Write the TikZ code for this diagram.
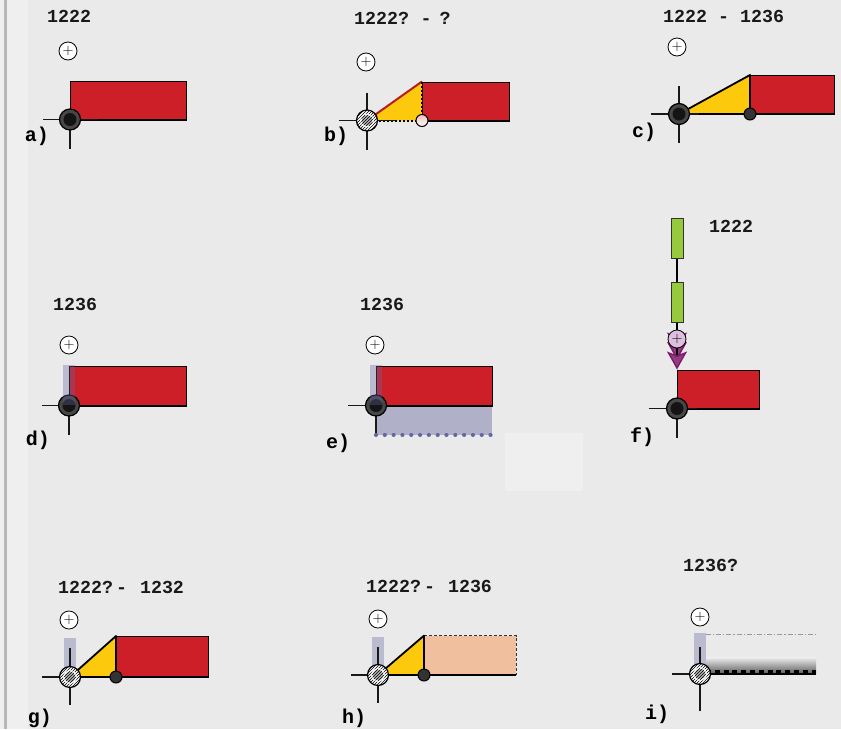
\documentclass[tikz,border=0pt]{standalone}
\usepackage{fontspec}
\newfontfamily\codefont{Liberation Mono}[BoldFont={Liberation Mono Bold}]
\usepackage{xcolor}
\usepackage{tikz}
\usetikzlibrary{arrows.meta,patterns,positioning}
\definecolor{pagebg}{HTML}{EAEAEA}
\definecolor{marginbg}{HTML}{EFEFEF}
\definecolor{barred}{HTML}{CC1F27}
\definecolor{wedgegold}{HTML}{FCC90D}
\definecolor{stemgreen}{HTML}{97C93D}
\definecolor{tipviolet}{HTML}{7D1A6A}
\definecolor{platepeach}{HTML}{F0BF9E}
\definecolor{stripblue}{HTML}{6666A0}
\definecolor{plateblue}{HTML}{B0B0C8}
\tikzset{
  timetext/.style={font=\codefont\bfseries\fontsize{18.3}{20}\selectfont,anchor=west,inner sep=0pt,text=black!90},
  panel/.style={font=\codefont\bfseries\fontsize{20}{22}\selectfont,inner sep=0pt,text=black},
  plusmark/.style={circle,draw=black,fill=white,line width=0.8pt,minimum size=18pt,inner sep=0pt,font=\fontsize{15}{15}\selectfont},
  redbar/.style={rectangle,draw=black,fill=barred,line width=1pt,inner sep=0pt,anchor=south west},
  baseline/.style={line width=2pt,black},
  crossline/.style={line width=1.1pt,black!90},
  wedge/.style={fill=wedgegold,draw=black,line width=1.8pt,line join=round},
  pivot/.style={circle,draw=black,fill=black!72,line width=1.2pt,minimum size=21pt,inner sep=0pt},
  pivotcore/.style={circle,fill=black!92,minimum size=13pt,inner sep=0pt},
  hatchpivot/.style={circle,draw=black,line width=1.2pt,minimum size=21pt,inner sep=0pt,
    preaction={fill=white},pattern=north east lines},
  hatchcore/.style={circle,draw=white,line width=1.5pt,fill=black!30,minimum size=12pt,inner sep=0pt,
    postaction={pattern=north east lines}},
  hinge/.style={circle,draw=black,fill=black!80,line width=1pt,minimum size=12pt,inner sep=0pt},
  strip/.style={fill=stripblue,opacity=0.35,inner sep=0pt,minimum width=12pt,anchor=south},
  stem/.style={rectangle,draw=black!80,fill=stemgreen,line width=1pt,minimum width=12pt,minimum height=40pt,inner sep=0pt},
  chevron/.style={-{Stealth[length=18pt,width=20pt,inset=4pt,fill=tipviolet!85,color=tipviolet]},line width=1.4pt},
}
\begin{document}
\begin{tikzpicture}[x=1pt,y=-1pt]
  \useasboundingbox (0,0) rectangle (841,729);
  \fill[pagebg] (0,0) rectangle (841,729);
  \fill[marginbg] (0,0) rectangle (28,729);
  \fill[black!28] (4,0) rectangle (6.5,729);
  \node[fill=marginbg,minimum width=78pt,minimum height=58pt,inner sep=0pt] (blank) at (544,462) {};

  % a)
  \coordinate (pa) at (70,119.5);
  \node[timetext] (ta) at (47,16) {1222};
  \node[plusmark] (ua) at (68,51) {$+$};
  \node[redbar,minimum width=116pt,minimum height=38pt] (ra) at (pa) {};
  \draw[baseline] (ra.south west) -- (ra.south east);
  \draw[crossline] ([xshift=-27pt]pa) -- ([xshift=28pt]pa);
  \draw[crossline] (pa) -- ([yshift=-29pt]pa);
  \node[pivot] (na) at (pa) {};
  \node[pivotcore] (ca) at (pa) {};
  \node[panel] (la) at (37,136) {a)};

  % b)
  \coordinate (pb) at (367,120.5);
  \node[timetext] (tb) at (354,18) {1222?\kern-3pt{} - \kern-3pt{}?};
  \node[plusmark] (ub) at (366,62) {$+$};
  \node[redbar,minimum width=87pt,minimum height=38pt] (rb) at (422,120.5) {};
  \fill[wedgegold] (pb) -- (rb.north west) -- (rb.south west) -- cycle;
  \draw[baseline] (rb.south west) -- (rb.south east);
  \draw[line width=2pt,barred!90!black] (pb) -- (rb.north west);
  \draw[line width=2pt,dash pattern=on 2pt off 2pt] (rb.north west) -- (rb.south west) -- (pb);
  \draw[crossline] ([xshift=-28pt]pb) -- ([xshift=28pt]pb);
  \draw[crossline] ([yshift=28pt]pb) -- ([yshift=-29pt]pb);
  \node[hatchpivot] (nb) at (pb) {};
  \node[hatchcore] (cb) at (pb) {};
  \node[circle,draw=black,top color=barred!30,middle color=white,bottom color=white,line width=1pt,minimum size=12pt,inner sep=0pt] (hb) at (rb.south west) {};
  \node[panel] (lb) at (336,136) {b)};

  % c)
  \coordinate (pc) at (679,114);
  \node[timetext] (tc) at (663,16) {1222 - 1236};
  \node[plusmark] (uc) at (677,47) {$+$};
  \node[redbar,minimum width=84pt,minimum height=38pt] (rc) at (750,114) {};
  \draw[wedge] (pc) -- (rc.north west) -- (rc.south west) -- cycle;
  \draw[baseline] (rc.south west) -- (rc.south east);
  \draw[crossline] ([xshift=-28pt]pc) -- ([xshift=20pt]pc);
  \draw[crossline] ([yshift=28pt]pc) -- ([yshift=-29pt]pc);
  \node[pivot] (nc) at (pc) {};
  \node[pivotcore] (cc) at (pc) {};
  \node[hinge] (hc) at (rc.south west) {};
  \node[panel] (lc) at (644,132) {c)};

  % d)
  \coordinate (pd) at (69,405.5);
  \node[timetext] (td) at (53,304) {1236};
  \node[plusmark] (ud) at (69,345) {$+$};
  \node[redbar,minimum width=117pt,minimum height=39pt] (rd) at (pd) {};
  \draw[baseline] (rd.south west) -- (rd.south east);
  \draw[crossline] ([xshift=-27pt]pd) -- (pd);
  \draw[crossline] (pd) -- ([yshift=-29pt]pd);
  \node[pivot] (nd) at (pd) {};
  \node[pivotcore] (cd) at (pd) {};
  \node[strip,minimum height=40pt] (sd) at (pd) {};
  \node[panel] (ld) at (38,440) {d)};

  % e)
  \coordinate (pe) at (376,405.5);
  \node[timetext] (te) at (360,304) {1236};
  \node[plusmark] (ue) at (375,345) {$+$};
  \node[fill=plateblue,minimum width=116pt,minimum height=29pt,inner sep=0pt,anchor=north west] (be) at (pe) {};
  \node[redbar,minimum width=116pt,minimum height=39pt] (re) at (pe) {};
  \draw[baseline] (re.south west) -- (re.south east);
  \draw[crossline] ([xshift=-28pt]pe) -- (pe);
  \draw[crossline] (pe) -- (be.south west);
  \draw[line width=4.2pt,stripblue,line cap=round,dash pattern=on 0.01pt off 8.8pt] (be.south west) -- (be.south east);
  \node[pivot] (ne) at (pe) {};
  \node[pivotcore] (ce) at (pe) {};
  \node[strip,minimum height=40pt] (se) at (pe) {};
  \node[panel] (le) at (338,443) {e)};

  % f)
  \coordinate (pf) at (677,408.5);
  \coordinate (uf) at (677,339);
  \node[timetext] (tf) at (709,226) {1222};
  \node[stem] (gt) at (677,238.5) {};
  \node[stem] (gb) at (677,302) {};
  \draw[line width=1.4pt] (gt) -- (gb);
  \node[redbar,minimum width=82pt,minimum height=38pt] (rf) at (pf) {};
  \draw[baseline] (rf.south west) -- (rf.south east);
  \draw[chevron] (gb) -- ([yshift=19pt]rf.north west);
  \draw[chevron] (gb) -- ([yshift=9.5pt]rf.north west);
  \draw[chevron] (gb) -- (rf.north west);
  \node[plusmark,fill=violet!25!white] (nu) at (uf) {$+$};
  \draw[crossline] ([xshift=-28pt]pf) -- ([xshift=20pt]pf);
  \draw[crossline] (pf) -- ([yshift=-29pt]pf);
  \node[pivot] (nf) at (pf) {};
  \node[pivotcore] (cf) at (pf) {};
  \node[panel] (lf) at (642,437) {f)};

  % g)
  \coordinate (pg) at (70,677);
  \node[timetext] (tg) at (58,587) {1222?\kern3pt-\kern2pt{} 1232};
  \node[plusmark] (ug) at (69,620) {$+$};
  \node[strip,minimum height=39pt] (sg) at (pg) {};
  \node[redbar,minimum width=92pt,minimum height=40pt] (rg) at (116,677) {};
  \draw[wedge] (pg) -- (rg.north west) -- (rg.south west) -- cycle;
  \draw[baseline] (rg.south west) -- (rg.south east);
  \draw[crossline] ([xshift=-28pt]pg) -- (pg);
  \draw[crossline] ([yshift=29pt]pg) -- ([yshift=-28pt]pg);
  \node[hatchpivot] (ng) at (pg) {};
  \node[hatchcore] (cg) at (pg) {};
  \node[hinge] (hg) at (rg.south west) {};
  \node[panel] (lg) at (40,718) {g)};

  % h)
  \coordinate (ph) at (378,675);
  \node[timetext] (th) at (366,586) {1222?\kern3pt-\kern2pt{} 1236};
  \node[plusmark] (uh) at (378,619) {$+$};
  \node[strip,minimum height=38pt] (sh) at (ph) {};
  \node[fill=platepeach,minimum width=92pt,minimum height=39pt,inner sep=0pt,anchor=south west] (rh) at (424,675) {};
  \draw[line width=1pt,densely dashed,black!80] (rh.north west) -- (rh.north east) -- (rh.south east);
  \draw[wedge] (ph) -- (rh.north west) -- (rh.south west) -- cycle;
  \draw[baseline] (rh.south west) -- (rh.south east);
  \draw[crossline] ([xshift=-27pt]ph) -- (ph);
  \draw[crossline] ([yshift=28pt]ph) -- ([yshift=-28pt]ph);
  \node[hatchpivot] (nh) at (ph) {};
  \node[hatchcore] (ch) at (ph) {};
  \node[hinge] (hh) at (rh.south west) {};
  \node[panel] (lh) at (354,718) {h)};

  % i)
  \coordinate (pi) at (700,674);
  \node[timetext] (ti) at (683,565) {1236?};
  \node[plusmark] (ui) at (700,617) {$+$};
  \node[strip,minimum height=41pt] (si) at (pi) {};
  \node[top color=pagebg,bottom color=black!65,minimum width=110pt,minimum height=16pt,inner sep=0pt,anchor=south west] (ri) at (706,674) {};
  \coordinate (qi) at (706,634);
  \coordinate (ei) at (816,634);
  \draw[line width=1pt,black!40,dash pattern=on 5pt off 2pt on 1.2pt off 2pt] (qi) -- (ei);
  \draw[line width=3pt,dash pattern=on 5pt off 3.8pt] ([yshift=2.5pt]ri.south west) -- ([yshift=2.5pt]ri.south east);
  \draw[baseline] (ri.south west) -- (ri.south east);
  \draw[crossline] ([xshift=-28pt]pi) -- (pi);
  \draw[crossline] ([yshift=-37pt]pi) -- ([yshift=27pt]pi);
  \node[hatchpivot] (ni) at (pi) {};
  \node[hatchcore] (ci) at (pi) {};
  \node[panel] (li) at (657,714) {i)};
\end{tikzpicture}
\end{document}
